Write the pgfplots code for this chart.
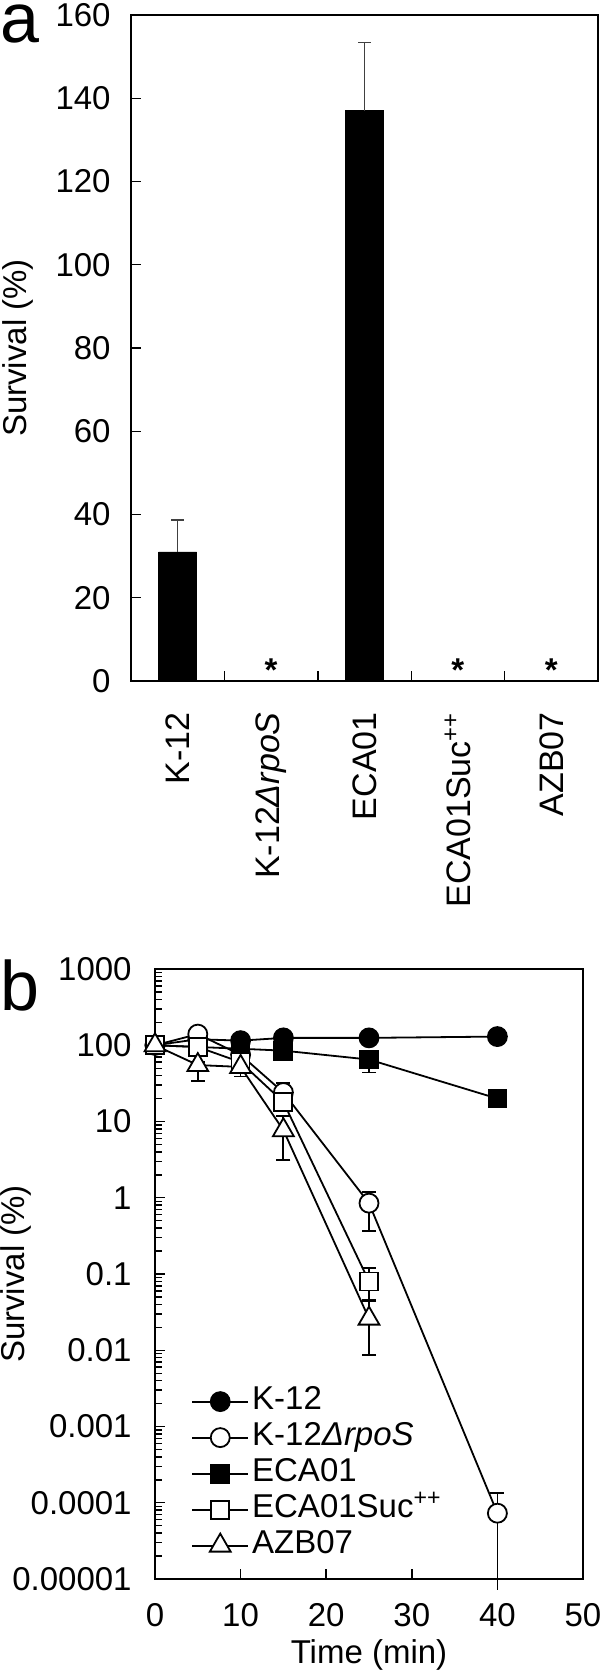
\documentclass[border=0pt]{standalone}
\usepackage{fontspec}
\setmainfont{Liberation Sans}
\usepackage{pgfplots}
\usepackage{pgfplotstable}
\pgfplotsset{compat=1.18}
\newcommand\fsz{\fontsize{16.5}{19}\selectfont}

% panel a: survival per strain
\pgfplotstableread{
x y err
0 31 7.7
2 137 16.4
}\barsA

% panel b: survival over time
\pgfplotstableread{
t y
0 100
5 120
10 115
15 125
25 125
40 130
}\kA
\pgfplotstableread{
t y
0 100
5 140
10 75
15 24
25 0.85
40 0.000073
}\kB
\pgfplotstableread{
t y
0 100
5 95
10 90
15 85
25 65
40 20
}\eA
\pgfplotstableread{
t y
0 100
5 95
10 60
15 18
25 0.08
}\eB
\pgfplotstableread{
t y
0 100
5 55
10 52
15 7.7
25 0.026
}\zB
% error bars (plus / minus)
\pgfplotstableread{
t y ep em
15 24 8 6
25 0.85 0.35 0.48
25 65 10 21
25 0.08 0.04 0.036
5 55 6 21
10 52 6 13
15 7.7 4 4.6
25 0.026 0.02 0.0173
}\errB

\begin{document}
\begin{tikzpicture}
\path[use as bounding box] (0pt,0pt) rectangle (300pt,-837pt);
\node[anchor=base west, inner sep=0pt, font=\fontsize{35}{40}\selectfont] at (0pt,-21.5pt) {a};
\node[anchor=base west, inner sep=0pt, font=\fontsize{35}{40}\selectfont] at (0pt,-505pt) {b};

\begin{axis}[
  at={(65.5pt,-340.5pt)}, anchor=south west,
  scale only axis, width=233.5pt, height=333pt,
  xmin=-0.5, xmax=4.5, ymin=0, ymax=160,
  axis line style={line width=1.1pt},
  tick style={line width=0.7pt, black},
  tick align=inside, major tick length=5pt, minor tick length=5pt,
  ytick={0,20,...,160}, ytick pos=left,
  xtick={0,1,2,3,4}, xtick pos=bottom,
  major x tick style={draw=none},
  minor xtick={0.5,1.5,2.5,3.5},
  xticklabels={K-12, K-12{\itshape Δ}\textit{rpoS}, ECA01, ECA01Suc\textsuperscript{++}, AZB07},
  xticklabel style={rotate=90, anchor=east, inner sep=0pt, font=\fontsize{17}{19}\selectfont},
  xticklabel shift=15.5pt,
  yticklabel style={inner sep=0pt, font=\fsz},
  yticklabel shift=10pt,
  /pgf/number format/assume math mode=true,
  ylabel={Survival (\%)},
  ylabel style={at={([xshift=-56.75pt]axis description cs:0,0.5)}, anchor=center, font=\fsz},
]
\addplot[ybar, bar width=19pt, fill=black, draw=black,
  error bars/.cd, y dir=plus, y explicit,
  error bar style={line width=0.6pt, black!75},
  error mark options={rotate=90, mark size=3.25pt, line width=0.6pt, black!75}]
  table[x=x, y=y, y error=err] {\barsA};
\addplot[draw=none, mark=none, nodes near coords={\textbf{*}},
  every node near coord/.style={anchor=base, inner sep=0pt, font=\fsz}]
  coordinates {(1,0) (3,0) (4,0)};
\end{axis}

\begin{axis}[
  at={(77.5pt,-789.5pt)}, anchor=south west,
  scale only axis, width=214pt, height=305pt,
  xmin=0, xmax=50, ymode=log, ymin=1e-5, ymax=1000,
  clip=false,
  axis line style={line width=1.1pt},
  tick style={line width=0.7pt, black},
  tick align=inside, major tick length=5pt, minor tick length=3.5pt,
  xtick={0,10,...,50}, xtick pos=bottom, ytick pos=left,
  ytick={1e-5,1e-4,1e-3,1e-2,1e-1,1,10,100,1000},
  yticklabels={0.00001,0.0001,0.001,0.01,0.1,1,10,100,1000},
  minor ytick={2e-5,3e-5,4e-5,5e-5,6e-5,7e-5,8e-5,9e-5,
    2e-4,3e-4,4e-4,5e-4,6e-4,7e-4,8e-4,9e-4,
    0.002,0.003,0.004,0.005,0.006,0.007,0.008,0.009,
    0.02,0.03,0.04,0.05,0.06,0.07,0.08,0.09,
    0.2,0.3,0.4,0.5,0.6,0.7,0.8,0.9,
    2,3,4,5,6,7,8,9,20,30,40,50,60,70,80,90,
    200,300,400,500,600,700,800,900},
  xticklabel style={inner sep=0pt, font=\fsz}, xticklabel shift=12pt,
  yticklabel style={inner sep=0pt, font=\fsz}, yticklabel shift=11.5pt,
  /pgf/number format/assume math mode=true,
  xlabel={Time (min)},
  xlabel style={at={([yshift=-30pt]axis description cs:0.5,0)}, anchor=north, inner sep=0pt, font=\fsz},
  ylabel={Survival (\%)},
  ylabel style={at={([xshift=-69.5pt]axis description cs:0,0.5)}, anchor=center, font=\fsz},
  legend style={at={(axis description cs:0.084,0.321)}, anchor=north west,
    draw=none, fill=none, inner sep=0pt, row sep=0pt, font=\fsz,
    nodes={inner sep=1.5pt, text height=11.5pt, text depth=3.5pt}},
  legend cell align=left,
  legend image code/.code={\draw[#1, mark repeat=2, mark phase=2]
    plot coordinates {(0pt,0pt) (14pt,0pt) (28pt,0pt)};},
]
% error bars first, markers on top
\addplot[forget plot, draw=none, mark=none,
  error bars/.cd, y dir=both, y explicit,
  error bar style={line width=0.9pt, black},
  error mark options={rotate=90, mark size=3.5pt, line width=0.9pt, black}]
  table[x=t, y=y, y error plus=ep, y error minus=em] {\errB};
\addplot[forget plot, draw=none, mark=none,
  error bars/.cd, y dir=plus, y explicit,
  error bar style={line width=0.9pt, black},
  error mark options={rotate=90, mark size=3.5pt, line width=0.9pt, black}]
  coordinates {(40,0.000073) +- (0,0.00006)};
\addplot[forget plot, line width=0.9pt, black] coordinates {(40,0.000073) (40,0.0000072)};

\addplot[line width=0.9pt, black, mark=*, mark size=4.75pt,
  mark options={solid, fill=black, draw=black}] table[x=t, y=y] {\kA};
\addlegendentry{K-12}
\addplot[line width=0.9pt, black, mark=*, mark size=4.75pt,
  mark options={solid, fill=white, draw=black}] table[x=t, y=y] {\kB};
\addlegendentry{K-12{\itshape Δ}\textit{rpoS}}
\addplot[line width=0.9pt, black, mark=square*, mark size=4.5pt,
  mark options={solid, fill=black, draw=black}] table[x=t, y=y] {\eA};
\addlegendentry{ECA01}
\addplot[line width=0.9pt, black, mark=square*, mark size=4.5pt,
  mark options={solid, fill=white, draw=black}] table[x=t, y=y] {\eB};
\addlegendentry{ECA01Suc\textsuperscript{++}}
\addplot[line width=0.9pt, black, mark=triangle*, mark size=6pt,
  mark options={solid, fill=white, draw=black}] table[x=t, y=y] {\zB};
\addlegendentry{AZB07}
\end{axis}
\end{tikzpicture}
\end{document}
